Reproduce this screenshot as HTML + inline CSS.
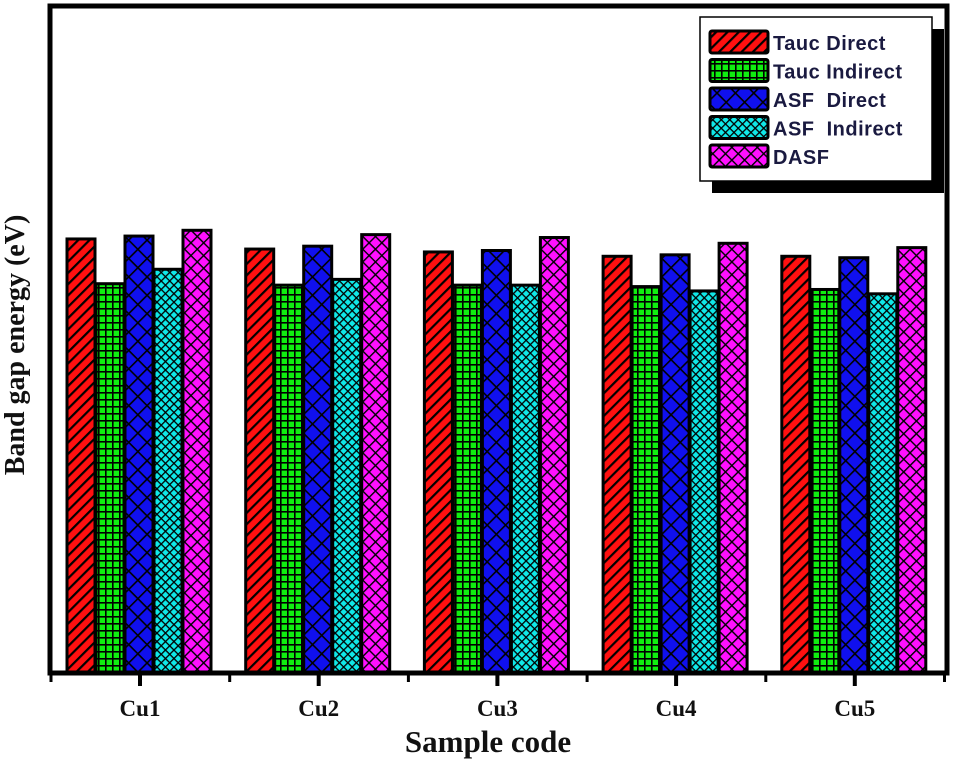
<!DOCTYPE html>
<html><head><meta charset="utf-8"><style>
body{margin:0;background:#fff}
svg{display:block}
</style></head><body>
<svg width="961" height="766" xmlns="http://www.w3.org/2000/svg">
<defs>
<pattern id="p0" width="8" height="8" patternUnits="userSpaceOnUse" patternTransform="rotate(45)"><rect width="8" height="8" fill="#ff1010"/><rect width="2.2" height="8" fill="#000"/></pattern>
<pattern id="p1" width="7" height="7" patternUnits="userSpaceOnUse"><rect width="7" height="7" fill="#10ee10"/><rect width="7" height="1.6" fill="#000"/><rect width="1.6" height="7" fill="#000"/></pattern>
<pattern id="p2" width="13" height="13" patternUnits="userSpaceOnUse" patternTransform="rotate(45)"><rect width="13" height="13" fill="#1010ee"/><rect width="13" height="1.6" fill="#000"/><rect width="1.6" height="13" fill="#000"/></pattern>
<pattern id="p3" width="6" height="6" patternUnits="userSpaceOnUse" patternTransform="rotate(45)"><rect width="6" height="6" fill="#10e8e8"/><rect width="6" height="1.3" fill="#000"/><rect width="1.3" height="6" fill="#000"/></pattern>
<pattern id="p4" width="9" height="9" patternUnits="userSpaceOnUse" patternTransform="rotate(45)"><rect width="9" height="9" fill="#ff10ff"/><rect width="9" height="1.4" fill="#000"/><rect width="1.4" height="9" fill="#000"/></pattern>
</defs>
<g id="plot"></g>
<rect x="50" y="6" width="897" height="667" fill="none" stroke="#000" stroke-width="5"/>
<g id="legend">
<rect x="712" y="29" width="232" height="164" fill="#000"/>
<rect x="700" y="17" width="232" height="164" fill="#fff" stroke="#000" stroke-width="1.5"/>
</g>
<text x="24" y="345" transform="rotate(-90 24 345)" text-anchor="middle" font-family="Liberation Serif, serif" font-weight="bold" font-size="28" fill="#111">Band gap energy (eV)</text>
<text x="488" y="752" text-anchor="middle" font-family="Liberation Serif, serif" font-weight="bold" font-size="31" fill="#111">Sample code</text>
<script>
const categories=["Cu1","Cu2","Cu3","Cu4","Cu5"];
const seriesNames=["Tauc Direct","Tauc Indirect","ASF  Direct","ASF  Indirect","DASF"];
const taucDirect=[3.00,2.93,2.91,2.88,2.88];
const taucIndirect=[2.69,2.68,2.68,2.67,2.65];
const asfDirect=[3.02,2.95,2.92,2.89,2.87];
const asfIndirect=[2.79,2.72,2.68,2.64,2.62];
const dasf=[3.06,3.03,3.01,2.97,2.94];
const series=[taucDirect,taucIndirect,asfDirect,asfIndirect,dasf];
const NS="http://www.w3.org/2000/svg";
const y0=672,yMax=4.6,plotH=664;
function yScale(v){return y0-v/yMax*plotH;}
function xCenter(i){return 140+i*178.7;}
const bw=29;
const plot=document.getElementById('plot');
categories.forEach((c,i)=>{
  series.forEach((s,k)=>{
    const r=document.createElementNS(NS,'rect');
    const x=xCenter(i)-73+k*bw;
    const yt=yScale(s[i]);
    r.setAttribute('x',x);r.setAttribute('y',yt);
    r.setAttribute('width',bw-1);r.setAttribute('height',y0-yt);
    r.setAttribute('fill','url(#p'+k+')');r.setAttribute('stroke','#000');r.setAttribute('stroke-width','3');
    
    
    plot.appendChild(r);
  });
  const t=document.createElementNS(NS,'line');
  t.setAttribute('x1',xCenter(i));t.setAttribute('x2',xCenter(i));t.setAttribute('y1',673);t.setAttribute('y2',686);
  t.setAttribute('stroke','#000');t.setAttribute('stroke-width','4');
  
  
  plot.appendChild(t);
  const l=document.createElementNS(NS,'text');
  l.setAttribute('x',xCenter(i));l.setAttribute('y',716);l.setAttribute('text-anchor','middle');
  l.setAttribute('font-family','Liberation Serif, serif');l.setAttribute('font-weight','bold');l.setAttribute('font-size','23');l.setAttribute('fill','#111');
  l.textContent=c;
  
  
  plot.appendChild(l);
});
for(let i=0;i<=5;i++){
  const x=51+i*178.7;
  const t=document.createElementNS(NS,'line');
  t.setAttribute('x1',x);t.setAttribute('x2',x);t.setAttribute('y1',673);t.setAttribute('y2',682);
  t.setAttribute('stroke','#000');t.setAttribute('stroke-width','3');
  
  
  plot.appendChild(t);
}
const leg=document.getElementById('legend');
seriesNames.forEach((n,k)=>{
  const yy=31+k*28.5;
  const r=document.createElementNS(NS,'rect');
  r.setAttribute('x',710);r.setAttribute('y',yy);r.setAttribute('width',58);r.setAttribute('height',22);r.setAttribute('rx',2);
  r.setAttribute('fill','url(#p'+k+')');r.setAttribute('stroke','#000');r.setAttribute('stroke-width','3');
  
  
  leg.appendChild(r);
  const t=document.createElementNS(NS,'text');
  t.setAttribute('x',773);t.setAttribute('y',yy+19);
  t.setAttribute('font-family','Liberation Sans, sans-serif');t.setAttribute('font-size','20');t.setAttribute('font-weight','bold');t.setAttribute('letter-spacing','0.5');t.setAttribute('fill','#1a1a40');
  t.setAttribute('style','white-space:pre');
  t.textContent=n;
  
  
  leg.appendChild(t);
});
</script>
</svg>
</body></html>
